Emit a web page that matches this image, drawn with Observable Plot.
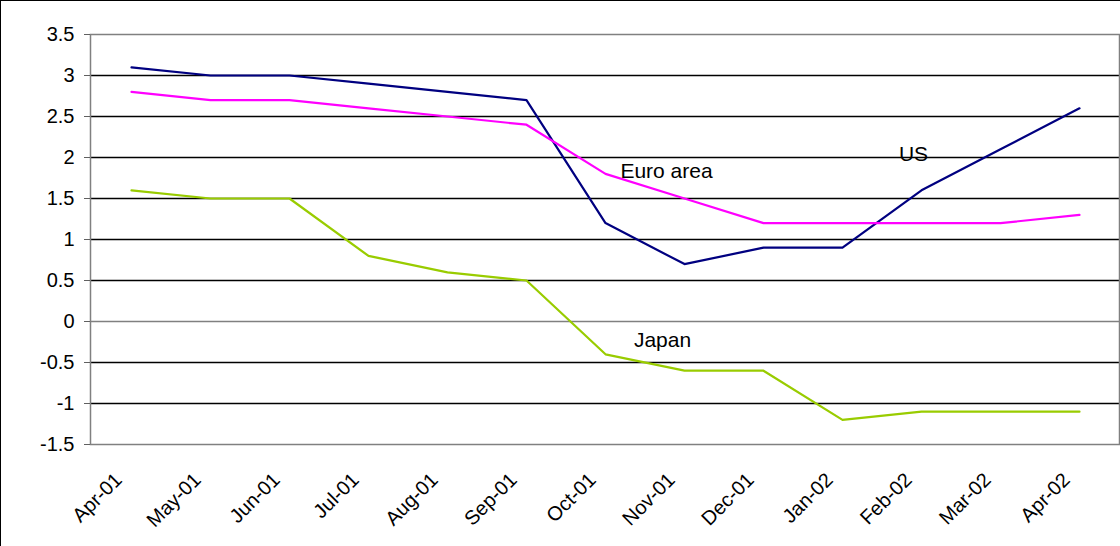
<!DOCTYPE html>
<html>
<head>
<meta charset="utf-8">
<script src="https://cdn.jsdelivr.net/npm/d3@7"></script>
<script src="https://cdn.jsdelivr.net/npm/@observablehq/plot@0.6"></script>
<style>
  html, body { margin: 0; padding: 0; background: #fff; }
  #chart {
    width: 1119px;
    height: 545px;
    border-top: 1px solid #000;
    border-left: 1px solid #000;
    overflow: hidden;
  }
  #chart svg { display: block; }
</style>
</head>
<body>
<div id="chart"></div>
<script>
// Monthly categories, April 2001 to April 2002
const months = ["Apr-01", "May-01", "Jun-01", "Jul-01", "Aug-01", "Sep-01", "Oct-01",
                "Nov-01", "Dec-01", "Jan-02", "Feb-02", "Mar-02", "Apr-02"];

// Series values (per cent)
const us       = [3.1, 3.0, 3.0, 2.9, 2.8, 2.7, 1.2, 0.7, 0.9, 0.9, 1.6, 2.1, 2.6];
const euroArea = [2.8, 2.7, 2.7, 2.6, 2.5, 2.4, 1.8, 1.5, 1.2, 1.2, 1.2, 1.2, 1.3];
const japan    = [1.6, 1.5, 1.5, 0.8, 0.6, 0.5, -0.4, -0.6, -0.6, -1.2, -1.1, -1.1, -1.1];

// Value-axis ticks
const yTicks = [-1.5, -1, -0.5, 0, 0.5, 1, 1.5, 2, 2.5, 3, 3.5];

const seriesNames = ["US", "Euro area", "Japan"];
const seriesColors = ["#000080", "#FF00FF", "#99CC00"];

// Long table built from the arrays above
const table = [
  ...months.map((m, i) => ({month: m, value: us[i], series: "US"})),
  ...months.map((m, i) => ({month: m, value: euroArea[i], series: "Euro area"})),
  ...months.map((m, i) => ({month: m, value: japan[i], series: "Japan"}))
];

// In-chart series labels, anchored to a month and a value
const seriesLabels = [
  {text: "Euro area", month: "Nov-01", value: 1.83, shift: -18},
  {text: "US",        month: "Feb-02", value: 2.04, shift: -8},
  {text: "Japan",     month: "Nov-01", value: -0.23, shift: -22}
];

const gridBlack = yTicks.filter(v => v !== 0 && v !== -1.5 && v !== 3.5);

const chart = Plot.plot({
  width: 1119,
  height: 545,
  marginLeft: 89,
  marginRight: 1,
  marginTop: 33,
  marginBottom: 102,
  style: {fontFamily: "'Liberation Sans', Arial, sans-serif", fontSize: "20px", color: "#000", background: "#fff"},
  x: {type: "point", domain: months, padding: 0.5, align: 0.5, label: null},
  y: {domain: [-1.5, 3.5], label: null},
  color: {domain: seriesNames, range: seriesColors},
  marks: [
    Plot.ruleY(gridBlack, {stroke: "#000", strokeWidth: 1.5}),
    Plot.ruleY([0], {stroke: "#808080", strokeWidth: 1.5}),
    Plot.frame({stroke: "#808080", strokeWidth: 1.5}),
    Plot.axisY({ticks: yTicks, tickSize: 6, tickPadding: 10, tickFormat: d => String(d),
                stroke: "#606060", fontSize: 20, fill: "#000", label: null}),
    Plot.axisX({tickRotate: -45, tickSize: 0, tickPadding: 32, dx: -13, fontSize: 20, fill: "#000", label: null}),
    Plot.line(table, {x: "month", y: "value", z: "series", stroke: "series", strokeWidth: 2.2}),
    ...seriesLabels.map(l => Plot.text([l], {x: "month", y: "value", text: "text", dx: l.shift,
                                             fontSize: 21, fill: "#000"}))
  ]
});

document.getElementById("chart").appendChild(chart);
</script>
</body>
</html>
